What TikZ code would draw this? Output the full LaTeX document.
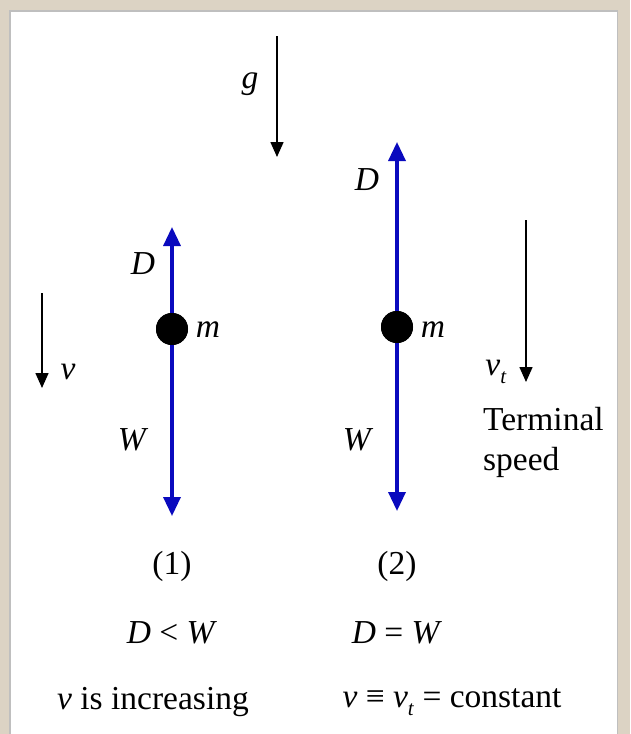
\documentclass[tikz,border=0pt]{standalone}
\usepackage{fontspec}
\setmainfont{Liberation Serif}
\usetikzlibrary{arrows.meta}
\definecolor{beige}{RGB}{220,211,196}
\definecolor{forceblue}{RGB}{10,10,190}
\newcommand{\subt}{\raisebox{-0.22em}{\fontsize{21}{21}\selectfont\textit{t}}}
\tikzset{
  lbl/.style={inner sep=0pt, font=\fontsize{33.5}{40}\selectfont},
  force/.style={forceblue, line width=3.4pt, -{Triangle[width=17pt,length=19pt]}},
  motion/.style={black, line width=1.5pt, -{Triangle[width=13pt,length=15pt]}},
  mass/.style={circle, fill=black, minimum size=32pt, inner sep=0pt}
}
\begin{document}
\begin{tikzpicture}[x=1pt,y=-1pt]
\fill[beige] (0,0) rectangle (630,734);
\fill[black!25] (9,10) rectangle (618,734);
\fill[white] (11,12) rectangle (617,734);
\useasboundingbox (0,0) rectangle (630,734);
% gravity
\coordinate (g0) at (277,36);
\coordinate (g1) at (277,157);
\draw[motion] (g0) -- (g1);
\node[lbl] (glab) at (250,84) {\textit{g}};
% object 1
\coordinate (t1) at (172,227);
\coordinate (b1) at (172,516);
\node[mass] (m1) at (172,329) {};
\draw[force] (m1.center) -- (t1);
\draw[force] (m1.center) -- (b1);
\node[mass] at (172,329) {};
\node[lbl] (D1) at (143,264) {\textit{D}};
\node[lbl] (W1) at (133,440) {\textit{W}};
\node[lbl] (mm1) at (208,330) {\textit{m}};
% v arrow
\coordinate (v0) at (42,293);
\coordinate (v1) at (42,388);
\draw[motion] (v0) -- (v1);
\node[lbl] (vlab) at (68,372) {\textit{v}};
% object 2
\coordinate (t2) at (397,142);
\coordinate (b2) at (397,511);
\node[mass] (m2) at (397,327) {};
\draw[force] (m2.center) -- (t2);
\draw[force] (m2.center) -- (b2);
\node[mass] at (397,327) {};
\node[lbl] (D2) at (367,180) {\textit{D}};
\node[lbl] (W2) at (358,440) {\textit{W}};
\node[lbl] (mm2) at (433,330) {\textit{m}};
% vt arrow
\coordinate (vt0) at (526,220);
\coordinate (vt1) at (526,382);
\draw[motion] (vt0) -- (vt1);
\node[lbl] (vtlab) at (496,372) {\textit{v}\subt};
\node[lbl, anchor=west, align=left] (term) at (483,442) {Terminal\\speed};
% captions
\node[lbl] (c1) at (172,566) {(1)};
\node[lbl] (c2) at (397,566) {(2)};
\node[lbl] (r1) at (172,633) {\textit{D} < \textit{W}};
\node[lbl] (r2) at (397,633) {\textit{D} = \textit{W}};
\node[lbl] (s1) at (153,702) {\textit{v} is increasing};
\node[lbl] (s2) at (452,702) {\textit{v} \symbol{"2261} \textit{v}\subt{} = constant};
\end{tikzpicture}
\end{document}
